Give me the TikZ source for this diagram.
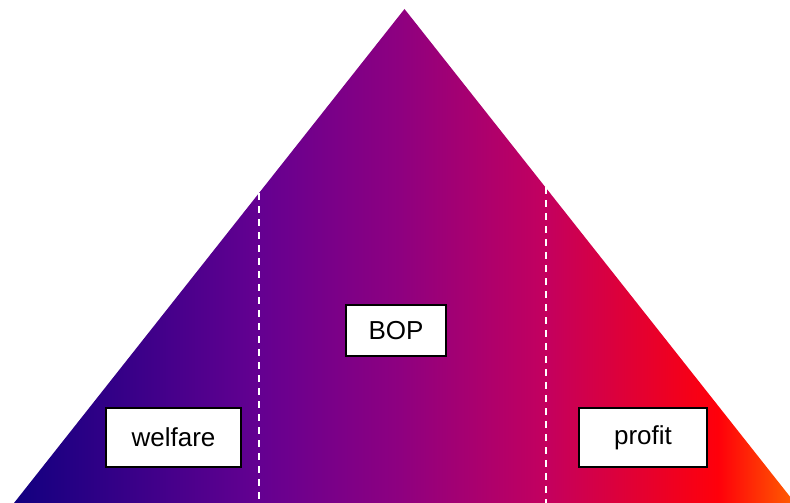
\documentclass[tikz,border=0pt]{standalone}
\usepackage{fontspec}
\setmainfont{Liberation Sans}
\usepackage{tikz}
\usepackage{xcolor}

\definecolor{welfarecol}{RGB}{18,0,128}
\definecolor{lowcol}{RGB}{100,0,145}
\definecolor{midcol}{RGB}{142,0,128}
\definecolor{highcol}{RGB}{195,0,95}
\definecolor{profitcol}{RGB}{255,0,10}
\definecolor{edgecol}{RGB}{255,95,0}

\pgfdeclarehorizontalshading{bopshade}{100bp}{color(0bp)=(welfarecol);
    color(25bp)=(welfarecol); color(40.7bp)=(lowcol); color(49.7bp)=(midcol);
    color(59bp)=(highcol); color(70.1bp)=(profitcol); color(75bp)=(edgecol);
    color(100bp)=(edgecol)}

\begin{document}
\begin{tikzpicture}[x=0.02cm, y=-0.02cm,
    box/.style={draw, line width=1.1pt, fill=white, inner sep=0pt,
	minimum height=1.18cm, font=\fontsize{14.8}{18}\selectfont},
    divider/.style={draw=white, line width=1.1pt,
	dash pattern=on 3.7pt off 3.7pt}]
    \useasboundingbox (0, 0) rectangle (790, 503);

    \coordinate (apex) at (404.5, 9);
    \coordinate (bl) at (14, 503);
    \coordinate (br) at (795, 503);
    \shade [shading=bopshade] (bl) -- (apex) -- (br) -- cycle;

    \coordinate (d1top) at (259, 193);
    \coordinate (d1bot) at (259, 503);
    \coordinate (d2top) at (546, 187);
    \coordinate (d2bot) at (546, 503);
    \path [divider] (d1top) -- (d1bot);
    \path [divider] (d2top) -- (d2bot);

    \path (173.5, 437.5) node [box, minimum width=2.7cm] (welfare) {welfare};
    \path (396, 330.5) node [box, minimum width=2cm, minimum height=1.02cm]
	(bop) {BOP};
    \path (643, 437.5) node [box, minimum width=2.56cm] (profit) {profit};
\end{tikzpicture}
\end{document}
